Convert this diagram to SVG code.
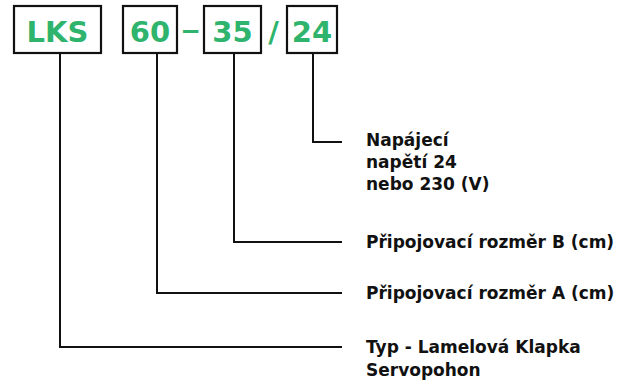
<svg xmlns="http://www.w3.org/2000/svg" width="621" height="383" viewBox="0 0 621 383">
<style>
.box{fill:#fff;stroke:#111;stroke-width:2.2}
.code{font-family:"DejaVu Sans",sans-serif;font-weight:bold;font-size:29px;fill:#2eb46c;text-anchor:middle}
.sep{font-family:"Liberation Sans",sans-serif;font-weight:bold;font-size:31px;fill:#2eb46c;text-anchor:middle}
.lbl{font-family:"DejaVu Sans",sans-serif;font-weight:bold;font-size:17px;fill:#111}
.conn{fill:none;stroke:#111;stroke-width:2}
</style>
<rect width="621" height="383" fill="#fff"/>
<g id="connectors">
<path class="conn" d="M60 53V347H342"/>
<path class="conn" d="M157 53V293H342"/>
<path class="conn" d="M234 53V242H342"/>
<path class="conn" d="M313 53V142H342"/>
</g>
<g id="node-lks"><rect class="box" x="14" y="6" width="87" height="47"/><text class="code" x="57.5" y="42">LKS</text></g>
<g id="node-60"><rect class="box" x="123" y="6" width="54" height="47"/><text class="code" x="150" y="42">60</text></g>
<g id="sep-dash"><text class="sep" x="190.5" y="40">–</text></g>
<g id="node-35"><rect class="box" x="204" y="6" width="57" height="47"/><text class="code" x="232.5" y="42">35</text></g>
<g id="sep-slash"><text class="code" x="273.5" y="42">/</text></g>
<g id="node-24"><rect class="box" x="287" y="6" width="50" height="47"/><text class="code" x="312" y="42">24</text></g>
<g id="label-24"><text class="lbl" x="366" y="146">Napájecí</text><text class="lbl" x="366" y="168">napětí 24</text><text class="lbl" x="366" y="190">nebo 230 (V)</text></g>
<g id="label-35"><text class="lbl" x="366" y="248">Připojovací rozměr B (cm)</text></g>
<g id="label-60"><text class="lbl" x="366" y="299">Připojovací rozměr A (cm)</text></g>
<g id="label-lks"><text class="lbl" x="366" y="353">Typ - Lamelová Klapka</text><text class="lbl" x="366" y="376">Servopohon</text></g>
</svg>
